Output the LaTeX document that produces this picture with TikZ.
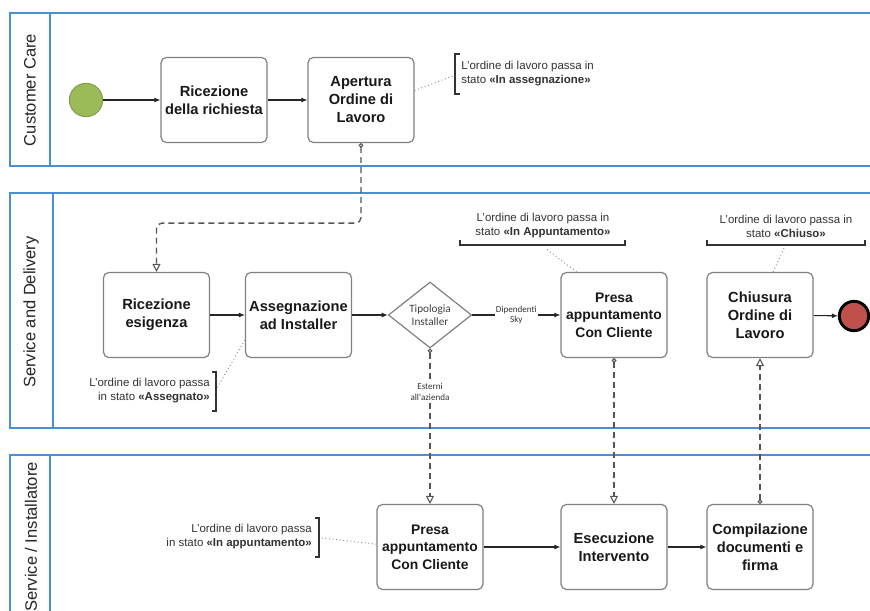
\documentclass[tikz,border=0pt]{standalone}
\usepackage{fontspec}
\setmainfont{Liberation Sans}
\newfontfamily\calib{Carlito}
\usetikzlibrary{shapes.geometric,arrows.meta}
\definecolor{lanecol}{HTML}{4A8FD4}
\definecolor{boxgray}{HTML}{808080}
\definecolor{annot}{HTML}{333333}
\definecolor{startg}{HTML}{9BBB59}
\definecolor{startb}{HTML}{7F9A48}
\definecolor{endr}{HTML}{C0504D}
\definecolor{msgcol}{HTML}{555555}
\begin{document}
\begin{tikzpicture}[x=0.75pt,y=-0.75pt,
  lanebox/.style={draw=lanecol, line width=1.3pt},
  lanelabel/.style={rotate=90, font=\fontsize{12.4}{14}\selectfont, text=black!85},
  task/.style={draw=boxgray, line width=0.9pt, rounded corners=4pt, fill=white,
    minimum width=79.5pt, minimum height=63.75pt, inner sep=0pt, align=center,
    font=\bfseries\fontsize{11}{13.5}\selectfont, text=black!90},
  taskp/.style={task, font=\bfseries\fontsize{10.4}{13.1}\selectfont},
  gate/.style={draw=boxgray, line width=0.9pt, diamond, fill=white,
    minimum width=62.5pt, minimum height=49.5pt, inner sep=0pt, align=center,
    font=\calib\fontsize{8.4}{10}\selectfont, text=black!75},
  anno/.style={font=\fontsize{8.6}{10.5}\selectfont, text=annot, inner sep=0pt},
  flowlabel/.style={fill=white, inner sep=1pt, align=center,
    font=\calib\fontsize{6.8}{8}\selectfont, text=black!80},
  seq/.style={draw=black!85, line width=0.8pt, -{Latex[length=4.5pt,width=3.8pt]}},
  msg/.style={draw=msgcol, line width=1pt, dash pattern=on 4.5pt off 3pt,
    {Circle[open,length=3.5pt,width=3.5pt,line width=0.8pt]}-{Triangle[open,length=6pt,width=6pt,line width=0.8pt]}},
  assoc/.style={draw=black!45, line width=0.7pt, dotted},
  brack/.style={draw=annot, line width=0.8pt}
]
\useasboundingbox (0,0) rectangle (870,610);
\fill[white] (0,0) rectangle (870,610);

% lanes
\draw[lanebox] (872,13) -- (10,13) -- (10,166) -- (872,166);
\draw[lanebox] (50,13) -- (50,166);
\draw[lanebox] (872,193) -- (10,193) -- (10,428) -- (872,428);
\draw[lanebox] (53,193) -- (53,428);
\draw[lanebox] (872,455) -- (10,455) -- (10,615);
\draw[lanebox] (50,455) -- (50,615);
\node[lanelabel] (l1) at (30,90) {Customer Care};
\node[lanelabel] (l2) at (31,312) {Service and Delivery};
\node[lanelabel] (l3) at (31,537) {Service / Installatore};

% lane 1
\node[circle, draw=startb, line width=0.7pt, fill=startg, minimum size=25pt, inner sep=0pt] (st) at (86,100) {};
\node[task] (rr) at (214,100) {Ricezione\\della richiesta};
\node[task] (ap) at (361,100) {Apertura\\Ordine di\\Lavoro};
\node[anno, anchor=west, align=left] (n1) at (461,74) {L'ordine di lavoro passa in\\stato \textbf{«In assegnazione»}};
\draw[brack] (460,54) -- (455,54) -- (455,94) -- (460,94);
\coordinate (b1) at (455,75);

% lane 2
\node[task] (re) at (156.5,315) {Ricezione\\esigenza};
\node[task] (as) at (298.5,315) {Assegnazione\\ad Installer};
\node[gate] (dia) at (430,315) {Tipologia\\Installer};
\node[taskp] (pa2) at (614,315) {Presa\\appuntamento\\Con Cliente};
\node[task] (ch) at (760,315) {Chiusura\\Ordine di\\Lavoro};
\node[circle, draw=black, line width=2.2pt, fill=endr, minimum size=22pt, inner sep=0pt] (en) at (854,316) {};

\node[anno, anchor=east, align=right] (n2) at (210,391) {L'ordine di lavoro passa\\in stato \textbf{«Assegnato»}};
\draw[brack] (212,372) -- (216,372) -- (216,411) -- (212,411);
\coordinate (b2) at (217,388);

\node[anno, align=center] (n3) at (543,226) {L'ordine di lavoro passa in\\stato \textbf{«In Appuntamento»}};
\draw[brack] (460,240) -- (460,245) -- (625,245) -- (625,240);
\coordinate (b3) at (545,248);

\node[anno, align=center] (n4) at (786,226) {L'ordine di lavoro passa in\\stato \textbf{«Chiuso»}};
\draw[brack] (707,240) -- (707,245) -- (865,245) -- (865,240);
\coordinate (b4) at (784,248);

% lane 3
\node[taskp] (pa3) at (430,547) {Presa\\appuntamento\\Con Cliente};
\node[task] (es) at (614,547) {Esecuzione\\Intervento};
\node[task] (co) at (760,547) {Compilazione\\documenti e\\firma};
\node[anno, anchor=east, align=right] (n5) at (312,537) {L'ordine di lavoro passa\\in stato \textbf{«In appuntamento»}};
\draw[brack] (315,518) -- (319,518) -- (319,557) -- (315,557);
\coordinate (b5) at (322,538);

% sequence flows
\draw[seq] (st) -- (rr);
\draw[seq] (rr) -- (ap);
\draw[seq] (re) -- (as);
\draw[seq] (as) -- (dia);
\draw[seq] (dia) -- (pa2) node[flowlabel, pos=0.5] (fl1) {Dipendenti\\Sky};
\draw[seq] (ch) -- (en);
\draw[seq] (pa3) -- (es);
\draw[seq] (es) -- (co);

% message flows
\draw[msg, rounded corners=4pt] (ap.south) -- ++(0,80) -| (re.north);
\draw[msg] (dia.south) -- (pa3.north) node[flowlabel, pos=0.28] (fl2) {Esterni\\all'azienda};
\draw[msg] (pa2.south) -- (es.north);
\draw[msg] (co.north) -- (ch.south);

% associations
\draw[assoc] (ap.10) -- (b1);
\draw[assoc] (as.205) -- (b2);
\draw[assoc] (pa2.131) -- (b3);
\draw[assoc] (ch.73) -- (b4);
\draw[assoc] (pa3.177) -- (b5);
\end{tikzpicture}
\end{document}
